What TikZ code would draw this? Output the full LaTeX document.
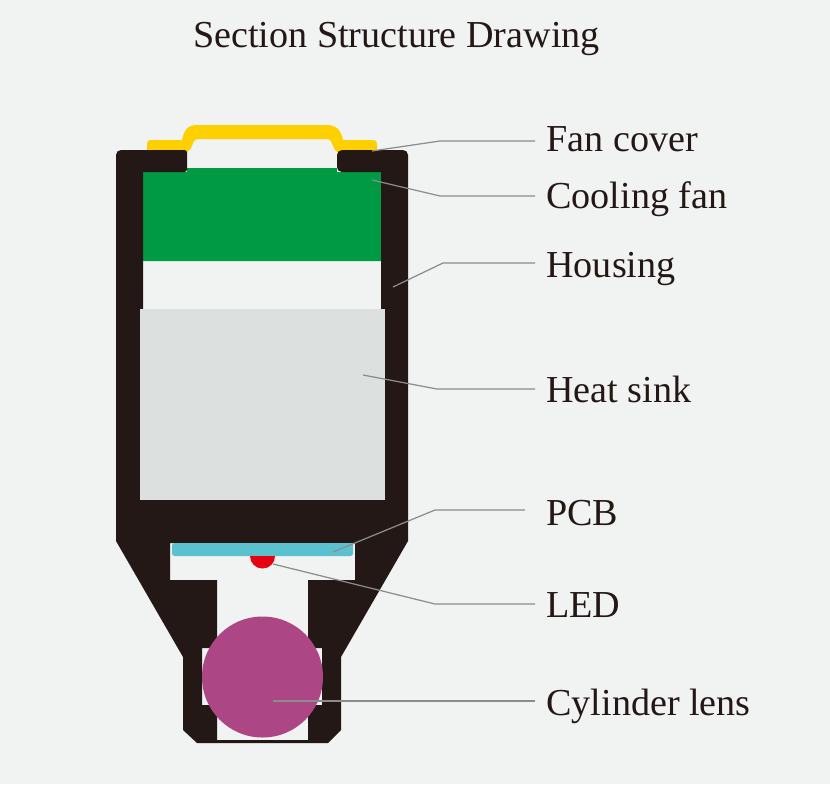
\documentclass[tikz,border=0pt]{standalone}
\usepackage{fontspec}
\setmainfont{Liberation Serif}
\definecolor{paper}{HTML}{F1F2F2}
\definecolor{shell}{HTML}{231815}
\definecolor{cover}{HTML}{FFD000}
\definecolor{fan}{HTML}{009A44}
\definecolor{sink}{HTML}{DCE0DF}
\definecolor{board}{HTML}{5BC1CF}
\definecolor{diode}{HTML}{E60012}
\definecolor{lens}{HTML}{AC4685}
\definecolor{leader}{HTML}{8C8C8C}
\tikzset{
  partlabel/.style={anchor=base west, inner xsep=0.22cm, inner ysep=0pt, text=shell, font=\fontsize{21.7}{26}\selectfont},
  leaderline/.style={draw=leader, line width=0.7pt}
}
\begin{document}
\begin{tikzpicture}[x=0.02cm, y=-0.02cm]
            \useasboundingbox[fill=paper] (0,0) rectangle (830,784);
            \node[partlabel, anchor=base, inner xsep=0pt] (title) at (396.5,48) {Section Structure Drawing};
            \fill[cover] (147,152) -- (147,144) .. controls (147,141) and (148,140) .. (151,140) -- (182,140) .. controls (184,132) and (186,125) .. (197,125) -- (327,125) .. controls (336,125) and (341,130) .. (343,140) -- (373,140) .. controls (376,140) and (377,141) .. (377,144) -- (377,152) -- (337,152) .. controls (333,150) and (332,139) .. (328,139) -- (197,139) .. controls (192,139) and (193,150) .. (187,152) -- cycle;
            \fill[fan] (143,172) -- (187,172) -- (187,168) -- (337,168) -- (337,172) -- (381,172) -- (381,261) -- (143,261) -- cycle;
            \fill[shell, even odd rule]
                [rounded corners=1mm] (187,150) -- (116,150) [sharp corners] -- (116,541) -- (183,657) -- (183,730) -- (197,743) -- (328,743) -- (341,730) -- (341,657) -- (408,541) [rounded corners=1mm] -- (408,150) -- (337,150) -- (337,172) [sharp corners] -- (381,172) -- (381,500) -- (143,500) -- (143,172) [rounded corners=0.5mm] -- (187,172) -- cycle
                [sharp corners] (170,543) -- (355,543) -- (355,580) -- (308,580) -- (308,637) -- (313,648) -- (322,648) -- (322,705) -- (313,705) -- (308,712) -- (308,740) -- (217,740) -- (217,712) -- (212,705) -- (202,705) -- (202,648) -- (212,648) -- (217,637) -- (217,580) -- (170,580) -- cycle;
            \fill[sink] (139.5,309) rectangle (385,500);
            \fill[board, rounded corners=0.5mm] (172,543) -- (172,556) -- (353,556) -- (353,543) -- cycle;
            \fill[diode] (250,556) arc[start angle=180, end angle=0, radius=12.5] -- cycle;
            \fill[lens] (262.5,677) circle[radius=60.5];
            \node[partlabel] (fancover) at (535,151) {Fan cover};
            \node[partlabel] (coolingfan) at (535,208) {Cooling fan};
            \node[partlabel] (housing) at (535,277) {Housing};
            \node[partlabel] (heatsink) at (535,402) {Heat sink};
            \node[partlabel, inner xsep=0.42cm] (pcb) at (525,525) {PCB};
            \node[partlabel] (led) at (535,617) {LED};
            \node[partlabel] (cylinderlens) at (535,715) {Cylinder lens};
            \coordinate (fantip) at (372,151);
            \coordinate (fanbend) at (440,141);
            \coordinate (coolingtip) at (372,180);
            \coordinate (coolingbend) at (440,196);
            \coordinate (housingtip) at (393,287);
            \coordinate (housingbend) at (443,263);
            \coordinate (sinktip) at (363,375);
            \coordinate (sinkbend) at (437,389);
            \coordinate (pcbtip) at (333,552);
            \coordinate (pcbbend) at (435,510);
            \coordinate (ledtip) at (273,564);
            \coordinate (ledbend) at (435,604);
            \coordinate (lenstip) at (273,701);
            \draw[leaderline] (fantip) -- (fanbend) -- (fanbend -| fancover.west);
            \draw[leaderline] (coolingtip) -- (coolingbend) -- (coolingbend -| coolingfan.west);
            \draw[leaderline] (housingtip) -- (housingbend) -- (housingbend -| housing.west);
            \draw[leaderline] (sinktip) -- (sinkbend) -- (sinkbend -| heatsink.west);
            \draw[leaderline] (pcbtip) -- (pcbbend) -- (pcbbend -| pcb.west);
            \draw[leaderline] (ledtip) -- (ledbend) -- (ledbend -| led.west);
            \draw[leaderline] (lenstip) -- (lenstip -| cylinderlens.west);
        \end{tikzpicture}
\end{document}
